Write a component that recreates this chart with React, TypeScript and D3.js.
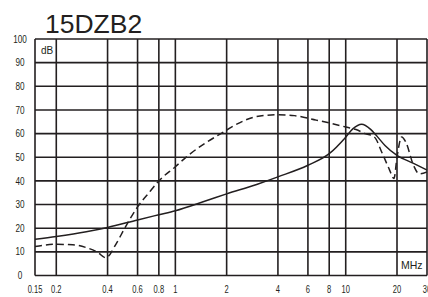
import React from "react";
import * as d3 from "d3";

const title = "15DZB2";
const xTicks = [0.15, 0.2, 0.4, 0.6, 0.8, 1, 2, 4, 6, 8, 10, 20, 30];
const xTickLabels = ["0.15", "0.2", "0.4", "0.6", "0.8", "1", "2", "4", "6", "8", "10", "20", "30"];
const yTicks = [0, 10, 20, 30, 40, 50, 60, 70, 80, 90, 100];

const solidFreq = [0.15, 0.2, 0.3, 0.4, 0.6, 0.8, 1, 1.5, 2, 3, 4, 6, 8, 10, 11, 12.4, 14, 15, 17, 20, 25, 30];
const solidDb = [15.3, 16.5, 18.5, 20.3, 23.5, 25.7, 27.4, 31.5, 34.5, 38.5, 41.7, 46.6, 51.5, 58.5, 62, 64, 61.8, 59.5, 55, 50.8, 47.4, 44.6];

const dashFreq = [0.15, 0.2, 0.25, 0.3, 0.35, 0.39, 0.45, 0.5, 0.6, 0.7, 0.8, 1, 1.2, 1.5, 1.9, 2.2, 3, 4, 5, 6.7, 8, 10, 11.5, 13, 14.7, 16.4, 18, 19.2, 20, 21.3, 22.5, 25, 27, 30];
const dashDb = [12.3, 13.2, 13, 11.8, 9.8, 7.5, 13.5, 19.5, 29, 35, 40, 46, 51, 56, 60.5, 63.3, 67.2, 68, 67.6, 65.7, 64.5, 62.8, 61.7, 60, 58.6, 51.6, 45, 41, 50, 58.6, 56.5, 46.6, 43, 43.8];

const INK = "#231f20";

export default function App() {
  const left = 35, right = 427, top = 39, bottom = 275.5;
  const x = d3.scaleLog().domain([0.15, 30]).range([left, right]);
  const y = d3.scaleLinear().domain([0, 100]).range([bottom, top]);
  const line = d3
    .line<[number, number]>()
    .x((d) => x(d[0]))
    .y((d) => y(d[1]))
    .curve(d3.curveMonotoneX);
  const solidPath = line(solidFreq.map((f, i) => [f, solidDb[i]]) as [number, number][]) || "";
  const dashPath = line(dashFreq.map((f, i) => [f, dashDb[i]]) as [number, number][]) || "";
  const tickFont = "'Liberation Sans', Arial, sans-serif";

  return (
    <svg
      width={428}
      height={297}
      style={{ position: "absolute", left: 0, top: 0, background: "#fff" }}
    >
      <defs>
        <clipPath id="plot">
          <rect x={left} y={top} width={right - left} height={bottom - top} />
        </clipPath>
      </defs>
      <rect x={0} y={0} width={428} height={297} fill="#fff" />
      <text x={45} y={33} fontFamily={tickFont} fontSize={26.5} fill={INK}>
        {title}
      </text>
      {yTicks.map((t) => (
        <line key={"h" + t} x1={left} x2={right} y1={y(t)} y2={y(t)} stroke={INK} strokeWidth={1.6} />
      ))}
      {xTicks.map((t) => (
        <line key={"v" + t} x1={x(t)} x2={x(t)} y1={top} y2={bottom} stroke={INK} strokeWidth={1.6} />
      ))}
      <g clipPath="url(#plot)" fill="none" stroke={INK} strokeWidth={1.5}>
        <path d={solidPath} />
        <path d={dashPath} strokeDasharray="7,4" />
      </g>
      {yTicks.map((t) => (
        <text
          key={"yl" + t}
          transform={`translate(20,${y(t) + 3.6}) scale(0.78,1)`}
          textAnchor="middle"
          fontFamily={tickFont}
          fontSize={10.5}
          fill={INK}
        >
          {t}
        </text>
      ))}
      {xTicks.map((t, i) => (
        <text
          key={"xl" + t}
          transform={`translate(${x(t)},293) scale(0.72,1)`}
          textAnchor="middle"
          fontFamily={tickFont}
          fontSize={10.5}
          fill={INK}
        >
          {xTickLabels[i]}
        </text>
      ))}
      <text x={41} y={54} fontFamily={tickFont} fontSize={10} fill={INK}>
        dB
      </text>
      <text x={401} y={269} fontFamily={tickFont} fontSize={10.5} fill={INK}>
        MHz
      </text>
    </svg>
  );
}
